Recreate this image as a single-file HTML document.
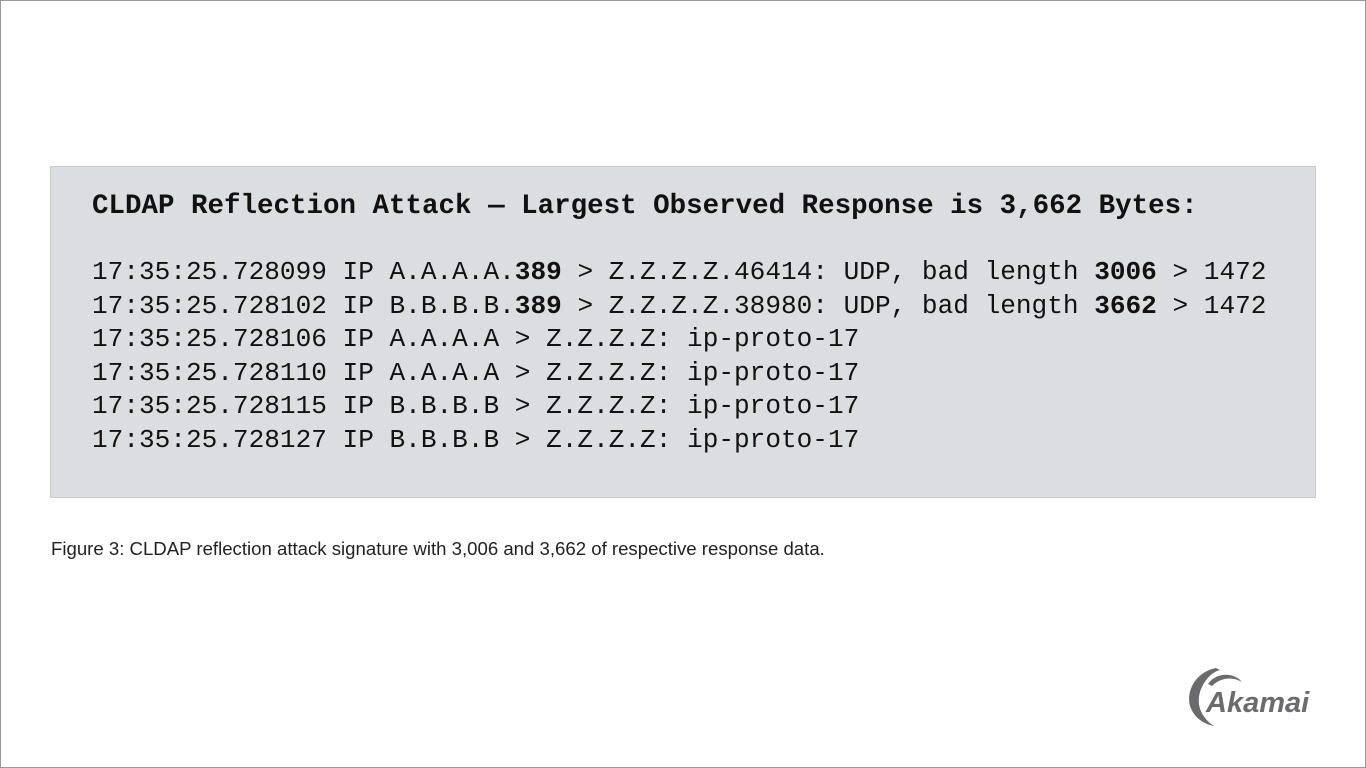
<!DOCTYPE html>
<html><head><style>
html,body{margin:0;padding:0;}
body{width:1366px;height:768px;background:#fff;position:relative;overflow:hidden;box-sizing:border-box;border:1px solid #999;}
.box{position:absolute;left:49px;top:165px;width:1264px;height:330px;background:#dcdde0;border:1px solid #c9c9cc;}
.mono{position:absolute;left:91px;font-family:"Liberation Mono",monospace;color:#111;white-space:pre;}
.t{font-size:27.5px;font-weight:bold;top:190px;}
.l{font-size:26.1px;line-height:33.5px;top:255px;}
.cap{position:absolute;left:50px;top:537px;font-family:"Liberation Sans",sans-serif;font-size:18.6px;color:#222;}
.logo{position:absolute;left:1185px;top:665px;}
</style></head><body>
<div class="box"></div>
<div class="mono t">CLDAP Reflection Attack — Largest Observed Response is 3,662 Bytes:</div>
<div class="mono l">17:35:25.728099 IP A.A.A.A.<b>389</b> &gt; Z.Z.Z.Z.46414: UDP, bad length <b>3006</b> &gt; 1472
17:35:25.728102 IP B.B.B.B.<b>389</b> &gt; Z.Z.Z.Z.38980: UDP, bad length <b>3662</b> &gt; 1472
17:35:25.728106 IP A.A.A.A &gt; Z.Z.Z.Z: ip-proto-17
17:35:25.728110 IP A.A.A.A &gt; Z.Z.Z.Z: ip-proto-17
17:35:25.728115 IP B.B.B.B &gt; Z.Z.Z.Z: ip-proto-17
17:35:25.728127 IP B.B.B.B &gt; Z.Z.Z.Z: ip-proto-17</div>
<div class="cap">Figure 3: CLDAP reflection attack signature with 3,006 and 3,662 of respective response data.</div>
<svg class="logo" width="130" height="70" viewBox="0 0 130 70">
<path d="M30 2 C10 6 0 24 4 40 C8 52 18 58 28 60 C16 52 10 40 14 26 C18 14 26 6 34 4 Z" fill="#6b6b6e"/>
<path d="M22 18 C30 6 48 6 56 16 C46 10 34 12 26 20 Z" fill="#6b6b6e"/>
<text x="20" y="46" font-family="Liberation Sans,sans-serif" font-size="29" font-weight="bold" font-style="italic" fill="#6b6b6e">Akamai</text>
</svg>
</body></html>
